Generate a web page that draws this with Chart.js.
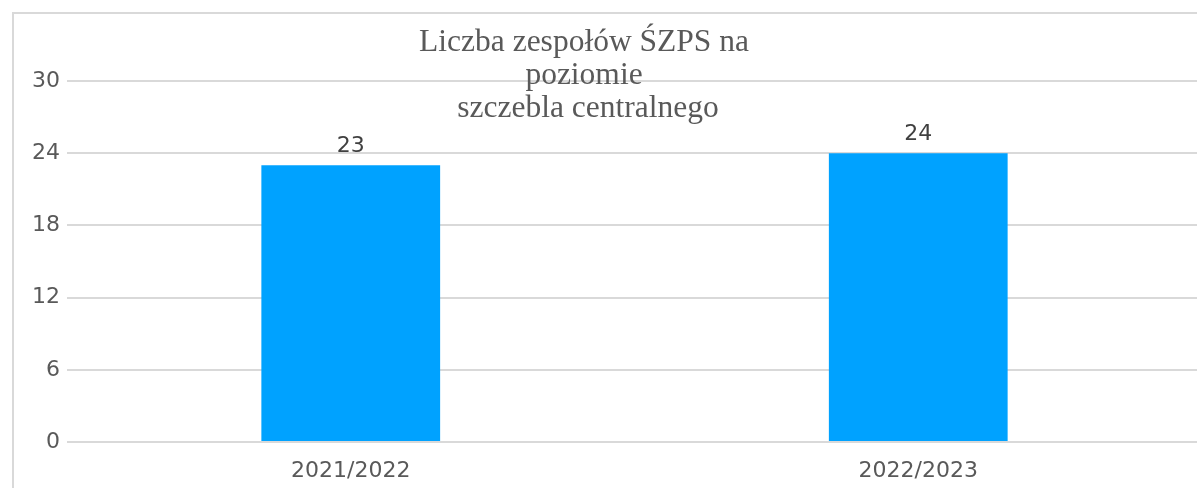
<!DOCTYPE html>
<html>
<head>
<meta charset="utf-8">
<script src="https://cdn.jsdelivr.net/npm/chart.js@4/dist/chart.umd.min.js"></script>
<style>
  html, body { margin: 0; padding: 0; background: #fff; overflow: hidden; }
  #wrap { position: relative; width: 1197px; height: 488px; overflow: hidden; }
  canvas { position: absolute; left: 0; top: 0; }
</style>
</head>
<body>
<div id="wrap"><canvas id="chart" width="1230" height="488"></canvas></div>
<script>
/* dane wykresu */
var categories = ['2021/2022', '2022/2023'];
var values     = [23, 24];
var titleLines = ['Liczba zespołów ŚZPS na', 'poziomie', ' szczebla centralnego'];
var yMin = 0, yMax = 30, yStep = 6;

/* ramka + tytuł nałożony na obszar wykresu */
var framePlugin = {
  id: 'frame',
  beforeDraw: function(chart) {
    var ctx = chart.ctx;
    ctx.save();
    ctx.strokeStyle = '#d9d9d9';
    ctx.lineWidth = 2;
    ctx.strokeRect(13, 13, 1400, 1000);
    ctx.restore();
  },
  afterDraw: function(chart) {
    var ctx = chart.ctx;
    ctx.save();
    ctx.fillStyle = '#595959';
    ctx.font = '31.5px "Liberation Serif", "Times New Roman", serif';
    ctx.textAlign = 'center';
    ctx.textBaseline = 'alphabetic';
    titleLines.forEach(function(line, i) {
      ctx.fillText(line, 584, 51 + i * 33);
    });
    ctx.restore();
  }
};

/* etykiety wartości nad słupkami */
var valueLabels = {
  id: 'valueLabels',
  afterDatasetsDraw: function(chart) {
    var ctx = chart.ctx;
    var meta = chart.getDatasetMeta(0);
    ctx.save();
    ctx.fillStyle = '#404040';
    ctx.font = '22px "DejaVu Sans", sans-serif';
    ctx.textAlign = 'center';
    ctx.textBaseline = 'alphabetic';
    meta.data.forEach(function(bar, i) {
      ctx.fillText(String(values[i]), bar.x, bar.y - 13);
    });
    ctx.restore();
  }
};

new Chart(document.getElementById('chart').getContext('2d'), {
  type: 'bar',
  data: {
    labels: categories,
    datasets: [{
      data: values,
      backgroundColor: '#00a2ff',
      borderWidth: 0,
      barPercentage: 1,
      categoryPercentage: 0.315
    }]
  },
  options: {
    responsive: false,
    animation: false,
    layout: { padding: { left: 0, right: 28, top: 81, bottom: 0 } },
    plugins: {
      legend: { display: false },
      title: { display: false },
      tooltip: { enabled: false }
    },
    scales: {
      x: {
        grid: { display: false, drawTicks: false },
        border: { display: false },
        ticks: {
          padding: 16,
          color: '#595959',
          font: { family: 'DejaVu Sans', size: 22 }
        },
        afterFit: function(scale) { scale.height = 46; }
      },
      y: {
        min: yMin,
        max: yMax,
        grid: { color: '#d9d9d9', lineWidth: 2, drawTicks: false },
        border: { display: false },
        ticks: {
          stepSize: yStep,
          padding: 7,
          color: '#595959',
          font: { family: 'DejaVu Sans', size: 22 }
        },
        afterFit: function(scale) { scale.width = 67; }
      }
    }
  },
  plugins: [framePlugin, valueLabels]
});
</script>
</body>
</html>
